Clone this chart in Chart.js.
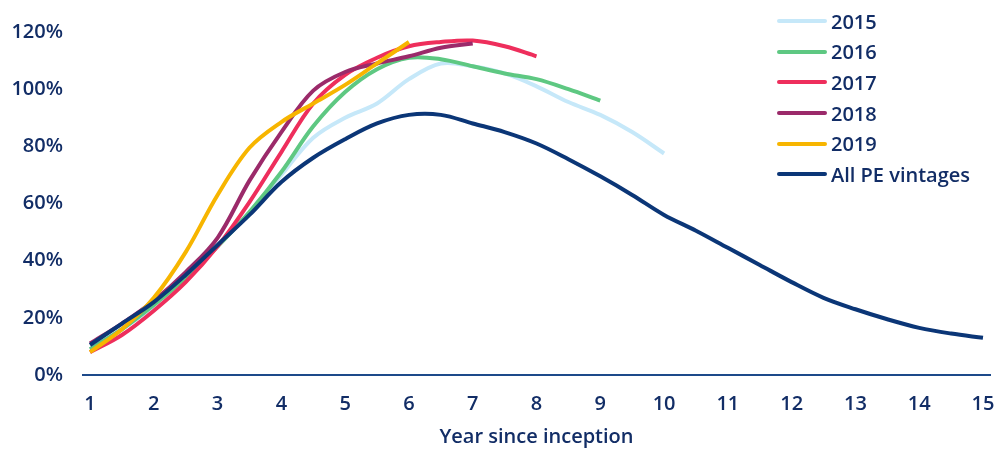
<!DOCTYPE html>
<html>
<head>
<meta charset="utf-8">
<script src="https://cdn.jsdelivr.net/npm/chart.js@4"></script>
<style>
  html, body { margin: 0; padding: 0; background: #fff; }
  #wrap { position: relative; width: 995px; height: 449px; }
  #legend {
    position: absolute; left: 777px; top: 6px;
    font-family: "Open Sans", sans-serif; font-weight: 600; font-size: 20px;
    color: #122d66;
  }
  .row { display: flex; align-items: center; height: 30.6px; }
  .swatch { width: 50px; height: 4px; border-radius: 2px; margin-right: 4px; }
</style>
</head>
<body>
<div id="wrap">
  <canvas id="chart" width="995" height="449"></canvas>
  <div id="legend"></div>
</div>
<script>
const TEXT = "#122d66";

// year since inception, half-year steps
const YEARS = [1, 1.5, 2, 2.5, 3, 3.5, 4, 4.5, 5, 5.5, 6, 6.5, 7, 7.5, 8, 8.5, 9, 9.5, 10,
               10.5, 11, 11.5, 12, 12.5, 13, 13.5, 14, 14.5, 15];
const X_TICKS = [1, 2, 3, 4, 5, 6, 7, 8, 9, 10, 11, 12, 13, 14, 15];

// values in %
const V2015 = [9, 16, 24, 34, 45, 57, 70, 83, 90, 95, 103.5, 109, 108, 105.5, 101, 95.5, 91, 85, 77.5];
const V2016 = [9, 16, 24.5, 34, 45, 57, 71, 87, 99, 107, 111, 110.5, 108, 105.5, 103.5, 100, 96];
const V2017 = [8, 14, 22.5, 32.5, 45, 60.5, 78, 95, 105, 111, 115, 116.5, 117, 115, 111.5];
const V2018 = [11, 18, 26, 36, 48, 68, 85, 99.5, 106, 109, 111.5, 114.5, 116];
const V2019 = [8, 16, 27, 43, 63, 79.5, 88.5, 95, 101.5, 109, 116.5];
const VALL = [10.5, 18, 25.5, 35, 45.5, 56, 67.5, 76, 82.5, 88, 91, 91, 88, 85, 81, 75.5, 69.5, 63,
              56, 50.5, 44.5, 38.5, 32.5, 27, 23, 19.5, 16.5, 14.5, 13];

const SERIES = [
  { label: "2015", values: V2015, color: "#c6e8f9" },
  { label: "2016", values: V2016, color: "#5ec882" },
  { label: "2017", values: V2017, color: "#ee2e5c" },
  { label: "2018", values: V2018, color: "#9b2a6a" },
  { label: "2019", values: V2019, color: "#f7b500" },
  { label: "All PE vintages", values: VALL, color: "#0b3677" },
];

const datasets = SERIES.map((s, i) => ({
  label: s.label,
  data: s.values.map((v, j) => ({ x: YEARS[j], y: v })),
  borderColor: s.color,
  backgroundColor: s.color,
  borderWidth: 4,
  pointRadius: 0,
  fill: false,
  tension: 0.35,
  order: SERIES.length - i,
}));

const font = { family: "'Open Sans', sans-serif", size: 20, weight: "600" };

new Chart(document.getElementById("chart"), {
  type: "line",
  data: { datasets },
  options: {
    responsive: false,
    animation: false,
    layout: { padding: { top: 31, right: 5, left: 0, bottom: 0 } },
    plugins: { legend: { display: false }, tooltip: { enabled: false } },
    scales: {
      x: {
        type: "linear",
        min: 0.89,
        max: 15.11,
        afterBuildTicks: (axis) => { axis.ticks = X_TICKS.map((v) => ({ value: v })); },
        afterFit: (scale) => { scale.height = 74; scale.paddingLeft = 0; scale.paddingRight = 0; },
        grid: { display: false, drawTicks: false },
        border: { display: true, color: "#1d4a8a", width: 2 },
        ticks: { color: TEXT, font, padding: 17, maxRotation: 0 },
        title: { display: true, text: "Year since inception", color: TEXT, font, padding: { top: 8, bottom: 0 } },
      },
      y: {
        min: 0,
        max: 120,
        afterFit: (scale) => { scale.width = 83; },
        grid: { display: false, drawTicks: false },
        border: { display: false },
        ticks: { stepSize: 20, color: TEXT, font, padding: 20, callback: (v) => v + "%" },
      },
    },
  },
});

const legend = document.getElementById("legend");
SERIES.forEach((s) => {
  const row = document.createElement("div");
  row.className = "row";
  const sw = document.createElement("div");
  sw.className = "swatch";
  sw.style.background = s.color;
  const txt = document.createElement("span");
  txt.textContent = s.label;
  row.appendChild(sw);
  row.appendChild(txt);
  legend.appendChild(row);
});
</script>
</body>
</html>
